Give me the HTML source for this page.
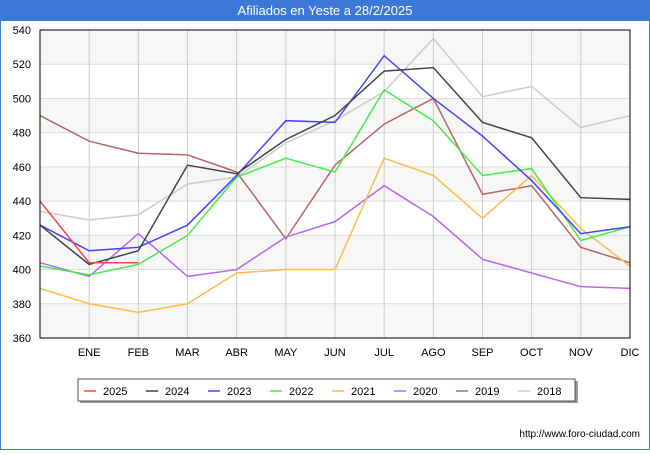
<!DOCTYPE html>
<html><head><meta charset="utf-8"><style>
body{margin:0;width:650px;height:450px;overflow:hidden;background:#fff;font-family:"Liberation Sans",sans-serif}
</style></head><body>
<svg width="650" height="450" id="svg" xmlns="http://www.w3.org/2000/svg" font-family="Liberation Sans, sans-serif">
<rect x="0" y="0" width="650" height="450" fill="#fff" stroke="#3c78d8" stroke-width="2"/>
<rect x="0" y="0" width="650" height="21" fill="#3c78d8"/>
<text x="325" y="15" text-anchor="middle" fill="#fff" font-size="13">Afiliados en Yeste a 28/2/2025</text>
<g id="grid"></g><g id="series"></g>
<rect x="40" y="30" width="590" height="308" fill="none" stroke="#000" stroke-width="1"/>
<g id="legend"></g>
<text x="640" y="437" text-anchor="end" font-size="10" fill="#000">http://www.foro-ciudad.com</text>
</svg>
<script>
const months=["","ENE","FEB","MAR","ABR","MAY","JUN","JUL","AGO","SEP","OCT","NOV","DIC"];
const yTicks=[360,380,400,420,440,460,480,500,520,540];
const names=["2025","2024","2023","2022","2021","2020","2019","2018"];
const colors=["#ff4444","#444444","#4444ff","#44ee44","#ffbb44","#bb66ee","#b86666","#cccccc"];
const s2025=[440,404,404];
const s2024=[426,403,411,461,456,476,490,516,518,486,477,442,441];
const s2023=[426,411,413,426,455,487,486,525,500,478,452,421,425];
const s2022=[402,397,403,420,454,465,457,505,487,455,459,417,425];
const s2021=[389,380,375,380,398,400,400,465,455,430,455,424,402];
const s2020=[404,396,421,396,400,419,428,449,431,406,398,390,389];
const s2019=[490,475,468,467,457,418,461,485,500,444,449,413,404];
const s2018=[434,429,432,450,454,474,487,504,535,501,507,483,490];
const series=[s2025,s2024,s2023,s2022,s2021,s2020,s2019,s2018];
const NS="http://www.w3.org/2000/svg";
const X=i=>40+i*590/12, Y=v=>338-(v-360)*308/180;
function mk(t,a,p){const e=document.createElementNS(NS,t);for(const k in a)e.setAttribute(k,a[k]);p.appendChild(e);return e;}
const g=document.getElementById('grid');
for(let k=0;k<yTicks.length-1;k++){if(k%2==0){const r=mk('rect',{x:40,y:Y(yTicks[k+1]),width:590,height:Y(yTicks[k])-Y(yTicks[k+1]),fill:'#f7f7f7'},g);

}}
yTicks.forEach(v=>{const l=mk('line',{x1:40,x2:630,y1:Y(v),y2:Y(v),stroke:'#ddd'},g);


const t=mk('text',{x:31,y:Y(v)+4,'text-anchor':'end','font-size':11,fill:'#000'},g);t.textContent=v;

});
months.forEach((m,i)=>{if(i==0)return;const l=mk('line',{x1:X(i),x2:X(i),y1:30,y2:338,stroke:'#ccc'},g);


const t=mk('text',{x:X(i),y:356,'text-anchor':'middle','font-size':11,fill:'#000'},g);t.textContent=m;

});
const sg=document.getElementById('series');
for(let s=series.length-1;s>=0;s--){const p=mk('polyline',{points:series[s].map((v,i)=>X(i)+','+Y(v)).join(' '),fill:'none',stroke:colors[s],'stroke-width':1.5},sg);

}
const lg=document.getElementById('legend');
const sh=mk('rect',{x:80,y:381,width:498,height:22,fill:'#999'},lg);


const bx=mk('rect',{x:78,y:379,width:497,height:22,fill:'#fff',stroke:'#555'},lg);


names.forEach((n,k)=>{const x0=84+k*62;
const l=mk('line',{x1:x0,x2:x0+12,y1:391,y2:391,stroke:colors[k],'stroke-width':1.5},lg);


const t=mk('text',{x:x0+19,y:395,'font-size':11,fill:'#000'},lg);t.textContent=n;

});
</script>
</body></html>
